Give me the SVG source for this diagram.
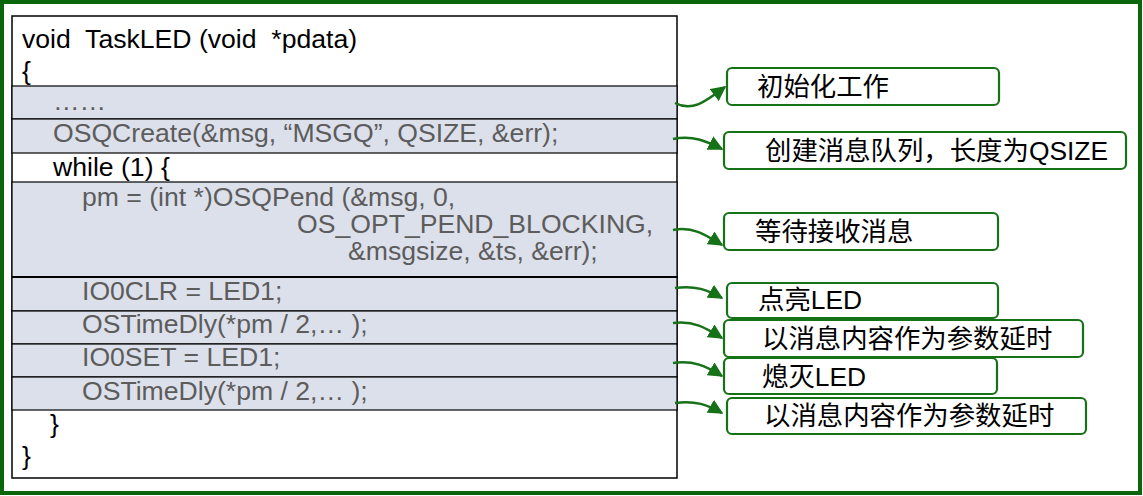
<svg xmlns="http://www.w3.org/2000/svg" width="1143" height="496" viewBox="0 0 1143 496">
<style>
.code{font-family:"Liberation Sans",Arial,sans-serif;font-size:26.6px;fill:#000}
.gray{fill:#5c5c5c}
.row{fill:#dce0eb;stroke:#000;stroke-width:1.2}
.note{fill:#fff;stroke:#167216;stroke-width:2.2}
.nt{font-family:"Liberation Sans","Noto Sans CJK SC",sans-serif;font-size:26.4px;fill:#000}
.arr{fill:none;stroke:#167216;stroke-width:2.5;marker-end:url(#ah)}
</style>
<defs>
<marker id="ah" viewBox="0 0 10 10" refX="9" refY="5" markerWidth="6" markerHeight="6" markerUnits="strokeWidth" orient="auto">
<path d="M0,0 L10,5 L0,10 Z" fill="#167216"/>
</marker>
</defs>
<rect x="0" y="0" width="1143" height="496" fill="#fff"/>
<rect x="2" y="2" width="1138" height="491" fill="none" stroke="#0b650b" stroke-width="4"/>
<g id="code">
<rect x="12" y="16" width="665" height="462" fill="#fff" stroke="#000" stroke-width="1.5"/>
<rect class="row" x="12" y="86" width="665" height="33"/>
<rect class="row" x="12" y="119" width="665" height="34"/>
<rect class="row" x="12" y="182" width="665" height="95"/>
<rect class="row" x="12" y="277" width="665" height="34"/>
<rect class="row" x="12" y="311" width="665" height="33"/>
<rect class="row" x="12" y="344" width="665" height="33"/>
<rect class="row" x="12" y="377" width="665" height="33"/>
<line x1="12" y1="277" x2="677" y2="277" stroke="#000" stroke-width="2"/>
<text class="code" x="22" y="48" xml:space="preserve">void  TaskLED (void  *pdata)</text>
<text class="code" x="22" y="80">{</text>
<text class="code gray" x="53" y="110">……</text>
<text class="code gray" x="53" y="142">OSQCreate(&amp;msg, “MSGQ”, QSIZE, &amp;err);</text>
<text class="code" x="53" y="176">while (1) {</text>
<text class="code gray" x="82" y="206">pm = (int *)OSQPend (&amp;msg, 0,</text>
<text class="code gray" x="297" y="233">OS_OPT_PEND_BLOCKING,</text>
<text class="code gray" x="348" y="260">&amp;msgsize, &amp;ts, &amp;err);</text>
<text class="code gray" x="82" y="300">IO0CLR = LED1;</text>
<text class="code gray" x="82" y="333">OSTimeDly(*pm / 2,… );</text>
<text class="code gray" x="82" y="366">IO0SET = LED1;</text>
<text class="code gray" x="82" y="400">OSTimeDly(*pm / 2,… );</text>
<text class="code" x="50" y="433">}</text>
<text class="code" x="22" y="465">}</text>
</g>
<g id="connectors">
<path class="arr" d="M675,103 C692,112 705,102 725,87"/>
<path class="arr" d="M673,139 C693,135 706,141 722,149"/>
<path class="arr" d="M673,230 C693,226 706,235 722,245"/>
<path class="arr" d="M675,288 C695,285 708,290 722,298"/>
<path class="arr" d="M673,323 C693,320 706,328 722,338"/>
<path class="arr" d="M673,363 C693,360 706,366 722,376"/>
<path class="arr" d="M675,403 C695,400 708,405 722,413"/>
</g>
<g id="n1"><rect class="note" x="727" y="68" width="272" height="37" rx="5"/><text class="nt" x="757" y="96">初始化工作</text></g>
<g id="n2"><rect class="note" x="724" y="132" width="402" height="37" rx="5"/><text class="nt" x="765" y="160">创建消息队列，长度为QSIZE</text></g>
<g id="n3"><rect class="note" x="724" y="213" width="274" height="37" rx="5"/><text class="nt" x="755" y="241">等待接收消息</text></g>
<g id="n4"><rect class="note" x="727" y="283" width="271" height="35" rx="5"/><text class="nt" x="758" y="309">点亮LED</text></g>
<g id="n5"><rect class="note" x="724" y="320" width="359" height="37" rx="5"/><text class="nt" x="762" y="348">以消息内容作为参数延时</text></g>
<g id="n6"><rect class="note" x="724" y="358" width="273" height="36" rx="5"/><text class="nt" x="762" y="386">熄灭LED</text></g>
<g id="n7"><rect class="note" x="727" y="398" width="359" height="36" rx="5"/><text class="nt" x="764" y="425">以消息内容作为参数延时</text></g>
</svg>
